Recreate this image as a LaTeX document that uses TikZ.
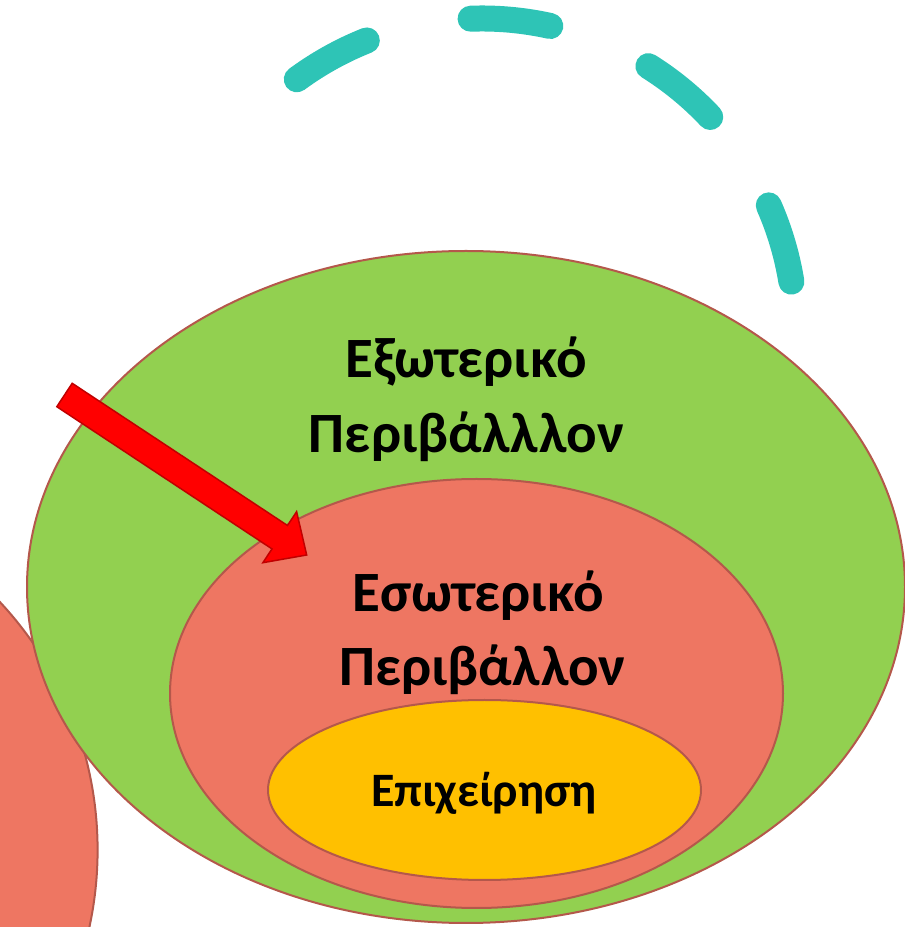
\documentclass[tikz,border=0pt]{standalone}
\usepackage{fontspec}
\setmainfont{Carlito}
\definecolor{outgreen}{HTML}{92D050}
\definecolor{salmon}{HTML}{EE7662}
\definecolor{gold}{HTML}{FFC000}
\definecolor{rim}{HTML}{B4584B}
\definecolor{teal}{HTML}{2EC4B6}
\definecolor{arrowred}{HTML}{FF0000}
\definecolor{arrowrim}{HTML}{C00000}
\tikzset{
  blob/.style={draw=rim, line width=2pt},
  bigtxt/.style={anchor=base, inner sep=0pt, font=\fontsize{57}{64}\selectfont\bfseries},
  smalltxt/.style={anchor=base, inner sep=0pt, font=\fontsize{48}{54}\selectfont\bfseries},
}
\begin{document}
\begin{tikzpicture}[x=1pt,y=1pt]
\useasboundingbox (0,0) rectangle (905,927);
\clip (0,0) rectangle (905,927);
% dashed teal arc
\draw[teal, line width=26pt, line cap=round, dash pattern=on 80.3pt off 106.5pt]
  (482.2,595.3) ++(126.3:313.2) arc[start angle=126.3, end angle=9.2, radius=313.2];
% left partial circle
\fill[salmon, blob] (-266,77) circle[radius=363.6];
% nested ellipses
\path[fill=outgreen, blob] (466,340) ellipse[x radius=439, y radius=336];
\path[fill=salmon, blob] (476.5,233.5) ellipse[x radius=306.5, y radius=214.5];
\path[fill=gold, blob] (484.5,137) ellipse[x radius=216.5, y radius=90];
% texts
\node[bigtxt] (out1) at (466,549.7) {Εξωτερικό};
\node[bigtxt] (out2) at (466.5,474.3) {Περιβάλλλον};
\node[bigtxt] (in1) at (478,315.3) {Εσωτερικό};
\node[bigtxt] (in2) at (482.5,241.3) {Περιβάλλον};
\node[smalltxt] (biz) at (484,120.3) {Επιχείρηση};
% red block arrow
\draw[fill=arrowred, draw=arrowrim, line width=1.5pt, line join=miter]
  (56.8,520.3) -- (72.2,543.7) -- (287.5,401.5) -- (296.6,415.3) -- (306.7,372)
  -- (262.9,364.3) -- (272.0,378.1) -- cycle;
\end{tikzpicture}
\end{document}
